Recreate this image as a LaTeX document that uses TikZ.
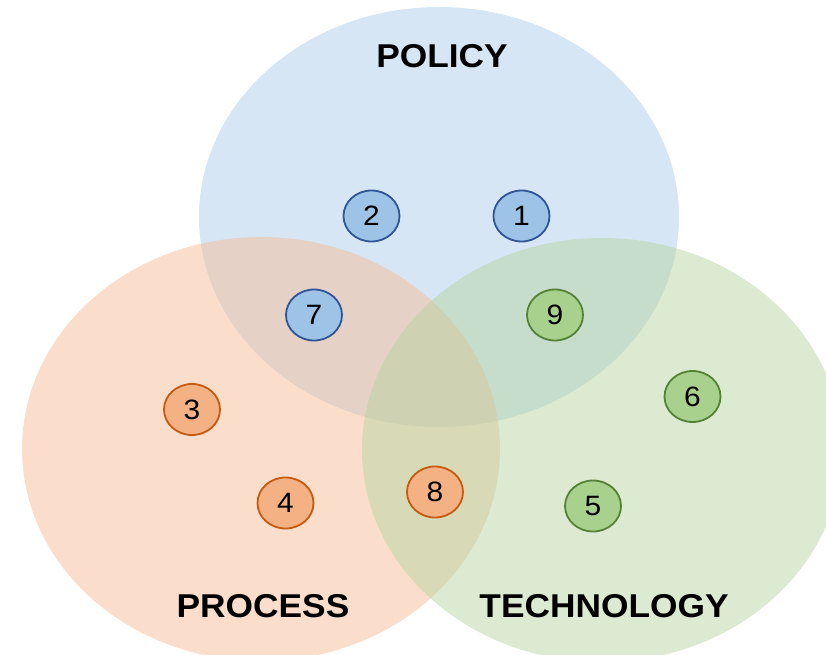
\documentclass[tikz,border=0pt]{standalone}
\usepackage{fontspec}
\setmainfont{Liberation Sans}[FakeStretch=1.07]
\usetikzlibrary{shapes.geometric}
\definecolor{PolicyFill}{RGB}{173,205,233}
\definecolor{ProcessFill}{RGB}{245,189,151}
\definecolor{TechFill}{RGB}{183,213,163}
\definecolor{PolicyDot}{HTML}{9DC3E6}
\definecolor{ProcessDot}{HTML}{F4B183}
\definecolor{TechDot}{HTML}{A9D18E}
\definecolor{PolicyLine}{HTML}{2F5597}
\definecolor{ProcessLine}{HTML}{C55A11}
\definecolor{TechLine}{HTML}{548235}

\tikzset{
    item/.style={ellipse, draw, line width=1.8pt, minimum width=56pt, minimum height=51pt,
        inner sep=0pt, font=\fontsize{28}{33}\selectfont},
    policyitem/.style={item, fill=PolicyDot, draw=PolicyLine},
    processitem/.style={item, fill=ProcessDot, draw=ProcessLine},
    techitem/.style={item, fill=TechDot, draw=TechLine},
    setlabel/.style={anchor=base, font=\bfseries\fontsize{33}{40}\selectfont}
}

\begin{document}
\begin{tikzpicture}[x=1pt, y=1pt]
    \useasboundingbox (0, 0) rectangle (826, 654);
    \begin{scope}
    \clip (0, 0) rectangle (826, 654);
    % Sets
    \fill[PolicyFill, opacity=0.5] (439, 437) ellipse [x radius=240, y radius=210];
    \fill[ProcessFill, opacity=0.5] (261, 205) ellipse [x radius=239, y radius=212];
    \fill[TechFill, opacity=0.5] (602, 204) ellipse [x radius=240, y radius=212];
    \end{scope}

    % Set names
    \node[setlabel] (policy) at (442, 586) {POLICY};
    \node[setlabel] (process) at (263, 37) {PROCESS};
    \node[setlabel] (technology) at (604, 37) {TECHNOLOGY};

    % Policy items
    \node[policyitem] (n1) at (521.5, 438) {1};
    \node[policyitem] (n2) at (371.5, 438) {2};
    \node[policyitem] (n7) at (314, 339) {7};

    % Process items
    \node[processitem] (n3) at (192, 244.5) {3};
    \node[processitem] (n4) at (285.5, 151) {4};
    \node[processitem] (n8) at (435, 162) {8};

    % Technology items
    \node[techitem] (n5) at (593, 148) {5};
    \node[techitem] (n6) at (692.5, 257.5) {6};
    \node[techitem] (n9) at (555, 339) {9};

\end{tikzpicture}
\end{document}
